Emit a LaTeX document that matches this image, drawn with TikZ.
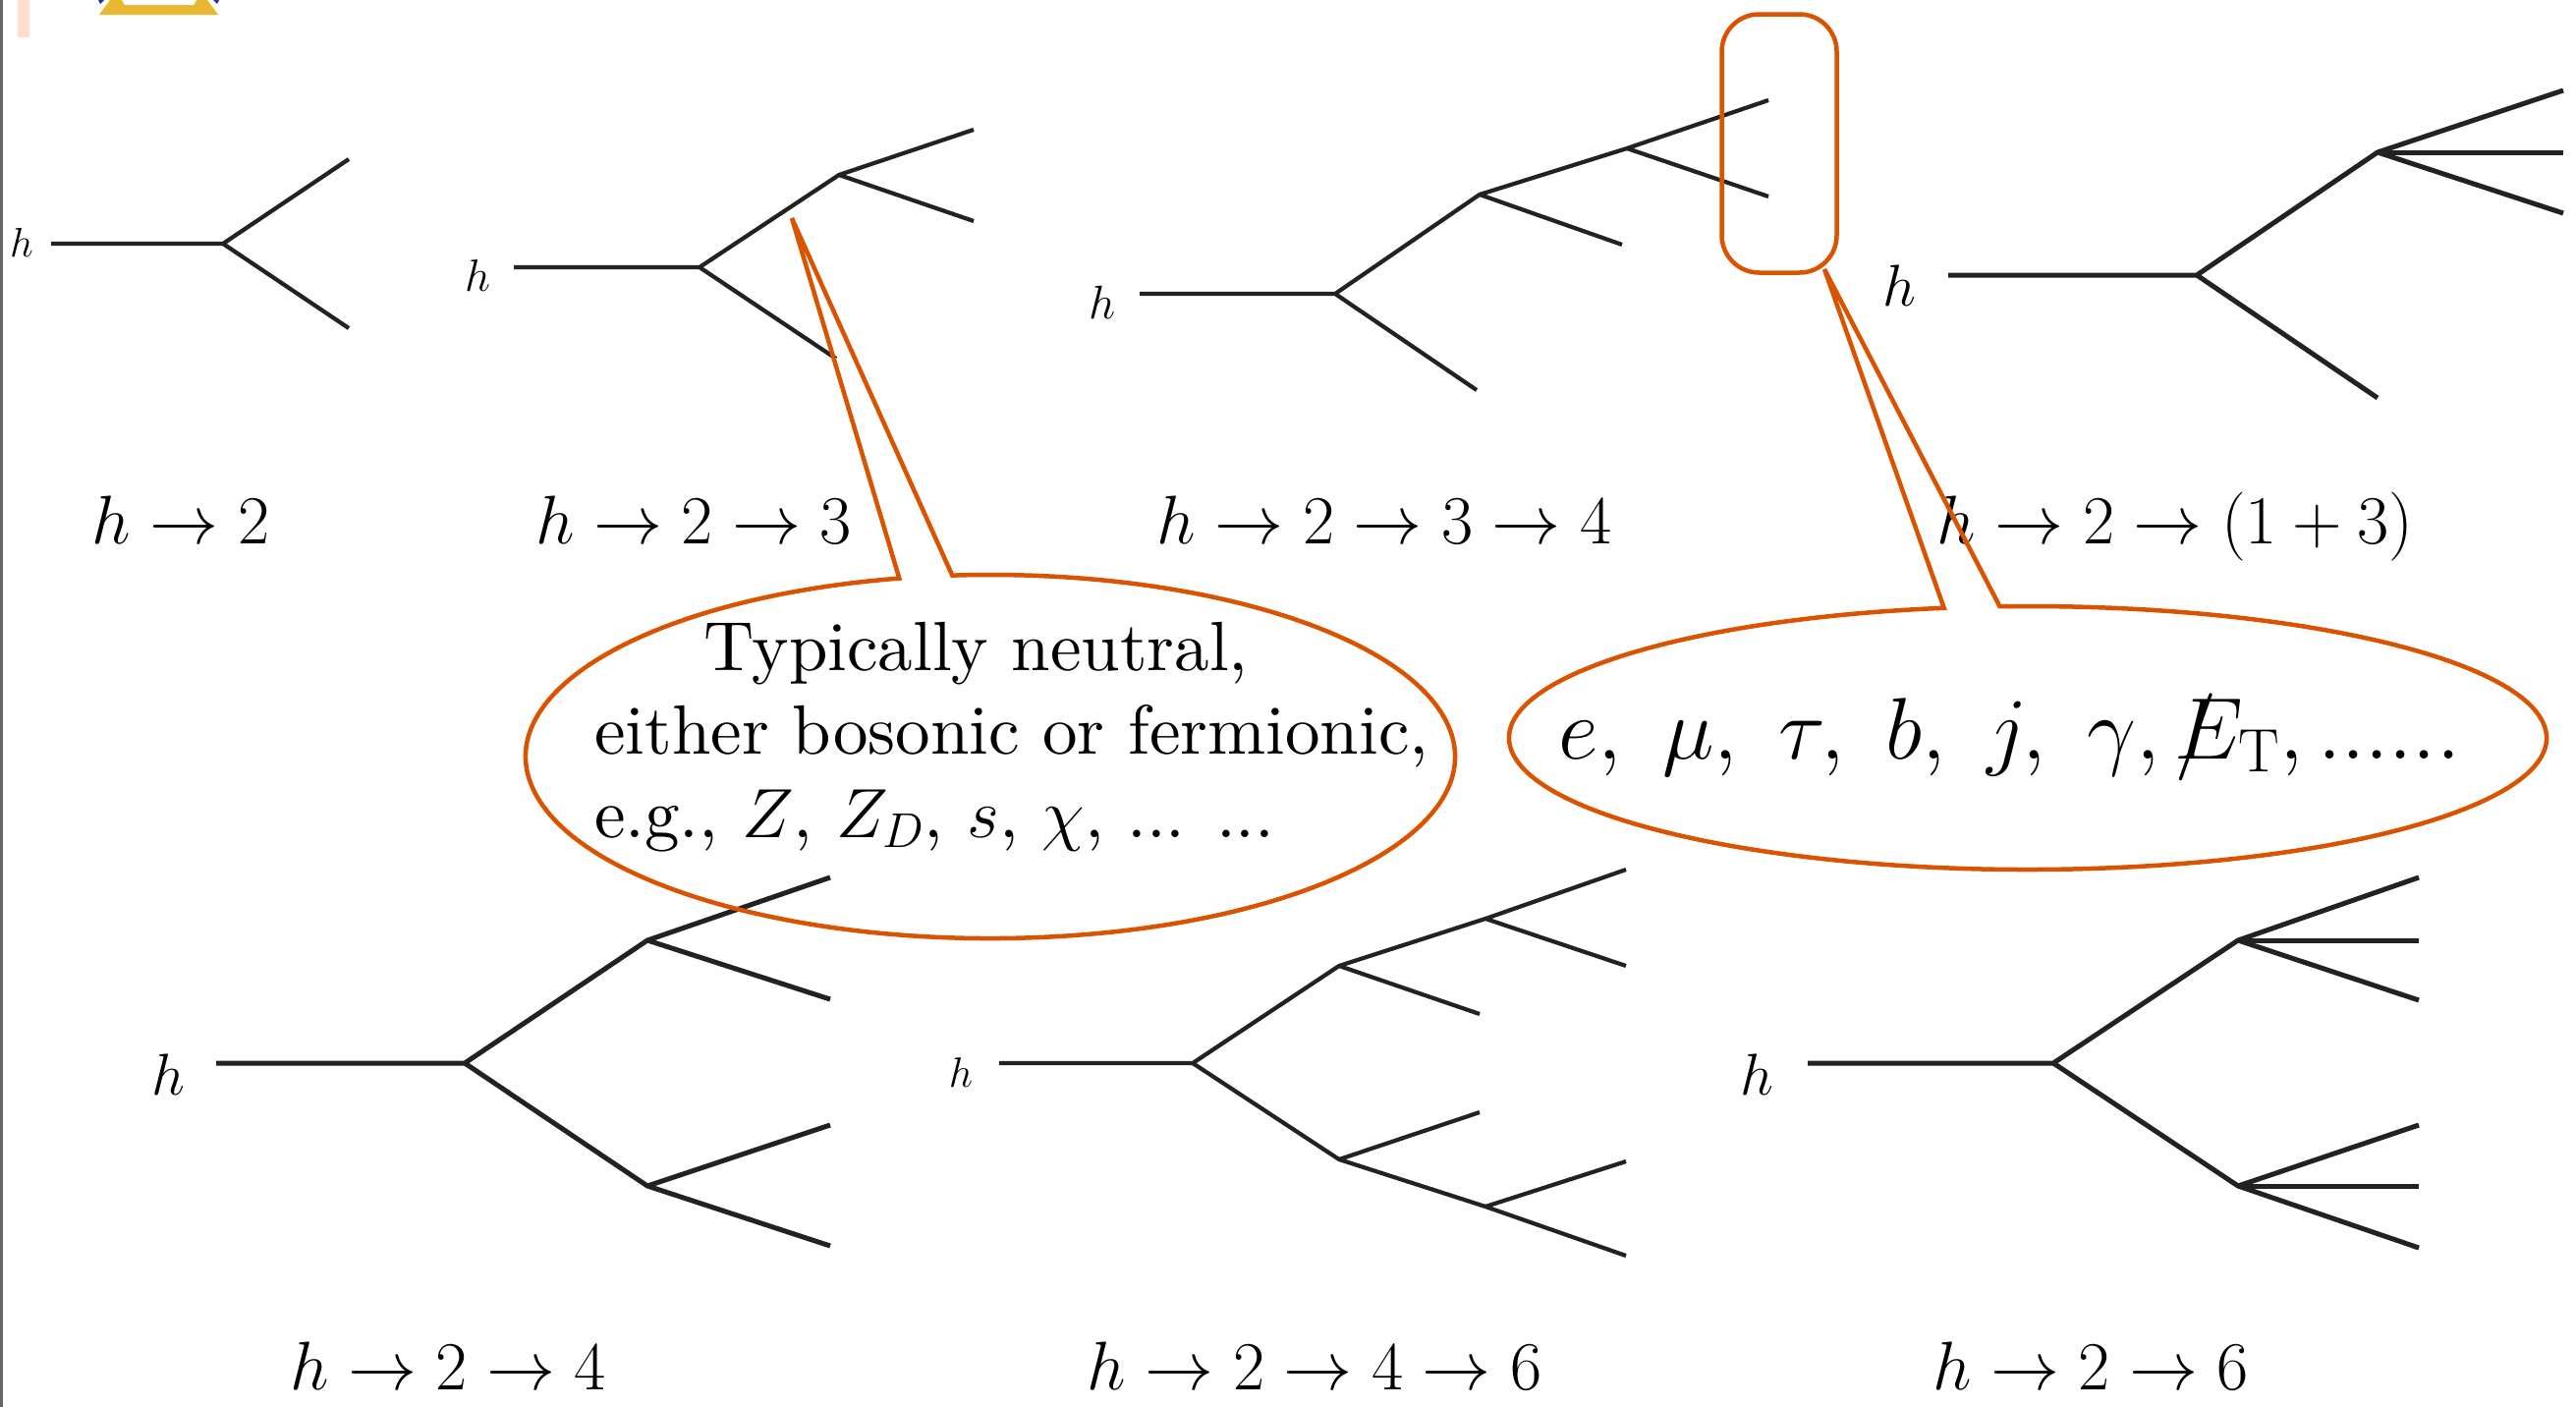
\RequirePackage{fix-cm}
\documentclass[tikz,border=0pt]{standalone}
\definecolor{linecol}{RGB}{34,34,34}
\definecolor{calloutcol}{RGB}{217,83,0}
\definecolor{pinkbar}{RGB}{255,222,206}
\definecolor{logoyellow}{RGB}{232,184,48}
\definecolor{logoblue}{RGB}{40,50,150}
\font\cmtextA="[lmroman10-regular.otf]:mapping=tex-text" at 71pt
\newcommand\capfont{\fontsize{70}{84}\selectfont}
\newcommand\calfontA{\fontsize{71}{85}\selectfont\cmtextA}
\newcommand\calfontB{\fontsize{89}{100}\selectfont}
\tikzset{
  ln/.style={draw=linecol, line width=4.2pt, line join=round},
  lnb/.style={draw=linecol, line width=5pt, line join=round},
  co/.style={draw=calloutcol, line width=4.5pt},
  hlab/.style={inner sep=0pt, text=black},
  caption/.style={anchor=base, inner sep=0pt, font=\capfont},
  ctext/.style={anchor=base west, inner sep=0pt},
}
\begin{document}
\begin{tikzpicture}[x=1pt,y=-1pt]
\useasboundingbox (0,0) rectangle (2622,1432);
\fill[white] (0,0) rectangle (2622,1432);
% slide remnants
\fill[gray!80!black] (0,0) rectangle (2.5,1432);
\fill[pinkbar] (18,0) rectangle (30,38);
\fill[logoyellow] (101,15) -- (222,15) -- (211,0) -- (112,0) -- cycle;
\fill[white] (127,5) -- (197,5) -- (200,0) -- (124,0) -- cycle;
\fill[logoblue] (100,0) -- (106,0) -- (102,4) -- cycle;
\fill[logoblue] (217,0) -- (223,0) -- (221,4) -- cycle;

% ---------- diagram 1: h -> 2
\node[hlab, font=\fontsize{42}{50}\selectfont] (h1) at (22,247) {$h$};
\coordinate (a0) at (52,248); \coordinate (a1) at (227,248);
\coordinate (a2) at (355,162); \coordinate (a3) at (355,334);
\draw[ln] (a0) -- (a1) -- (a2); \draw[ln] (a1) -- (a3);
\node[caption] (l1) at (184,553) {$h\rightarrow 2$};

% ---------- diagram 2: h -> 2 -> 3
\node[hlab, font=\fontsize{46}{55}\selectfont] (h2) at (486,281) {$h$};
\coordinate (b0) at (523,272); \coordinate (b1) at (712,272);
\coordinate (b2) at (854,178); \coordinate (b3) at (851,365);
\coordinate (b4) at (991,132); \coordinate (b5) at (991,225);
\draw[ln] (b0) -- (b1) -- (b2) -- (b4); \draw[ln] (b1) -- (b3); \draw[ln] (b2) -- (b5);
\node[caption] (l2) at (706,553) {$h\rightarrow 2\rightarrow 3$};

% ---------- diagram 3: h -> 2 -> 3 -> 4
\node[hlab, font=\fontsize{48}{58}\selectfont] (h3) at (1122,308) {$h$};
\coordinate (c0) at (1160,299); \coordinate (c1) at (1359,299);
\coordinate (c2) at (1503,397); \coordinate (c3) at (1506,198);
\coordinate (c4) at (1651,249); \coordinate (c5) at (1656,151);
\coordinate (c6) at (1800,102); \coordinate (c7) at (1800,200);
\draw[ln] (c0) -- (c1) -- (c3) -- (c5) -- (c6); \draw[ln] (c1) -- (c2);
\draw[ln] (c3) -- (c4); \draw[ln] (c5) -- (c7);
\node[caption] (l3) at (1409,553) {$h\rightarrow 2\rightarrow 3\rightarrow 4$};

% ---------- diagram 4: h -> 2 -> (1+3)
\node[hlab, font=\fontsize{60}{72}\selectfont] (h4) at (1933,291) {$h$};
\coordinate (d0) at (1983,280); \coordinate (d1) at (2236,280);
\coordinate (d2) at (2420,405); \coordinate (d3) at (2420,155);
\coordinate (d4) at (2609,92); \coordinate (d5) at (2609,155); \coordinate (d6) at (2609,217);
\draw[lnb] (d0) -- (d1) -- (d3) -- (d4); \draw[lnb] (d1) -- (d2);
\draw[lnb] (d3) -- (d5); \draw[lnb] (d3) -- (d6);
\node[caption] (l4) at (2214,553) {$h\rightarrow 2\rightarrow (1+3)$};

% ---------- diagram 5: h -> 2 -> 4
\node[hlab, font=\fontsize{60}{72}\selectfont] (h5) at (171,1094) {$h$};
\coordinate (e0) at (220,1082); \coordinate (e1) at (473,1082);
\coordinate (e2) at (659,957); \coordinate (e3) at (659,1207);
\coordinate (e4) at (845,893); \coordinate (e5) at (845,1017);
\coordinate (e6) at (845,1145); \coordinate (e7) at (845,1268);
\draw[lnb] (e0) -- (e1) -- (e2) -- (e4); \draw[lnb] (e1) -- (e3) -- (e7);
\draw[lnb] (e2) -- (e5); \draw[lnb] (e3) -- (e6);
\node[caption] (l5) at (456,1414) {$h\rightarrow 2\rightarrow 4$};

% ---------- diagram 6: h -> 2 -> 4 -> 6
\node[hlab, font=\fontsize{43}{52}\selectfont] (h6) at (978,1092) {$h$};
\coordinate (f0) at (1017,1082); \coordinate (f1) at (1214,1082);
\coordinate (f2) at (1363,983); \coordinate (f3) at (1506,1032);
\coordinate (f4) at (1512,935); \coordinate (f5) at (1655,885); \coordinate (f6) at (1655,983);
\coordinate (f7) at (1363,1180); \coordinate (f8) at (1506,1132);
\coordinate (f9) at (1512,1228); \coordinate (f10) at (1655,1182); \coordinate (f11) at (1655,1278);
\draw[ln] (f0) -- (f1) -- (f2) -- (f4) -- (f5); \draw[ln] (f2) -- (f3); \draw[ln] (f4) -- (f6);
\draw[ln] (f1) -- (f7) -- (f9) -- (f11); \draw[ln] (f7) -- (f8); \draw[ln] (f9) -- (f10);
\node[caption] (l6) at (1338,1414) {$h\rightarrow 2\rightarrow 4\rightarrow 6$};

% ---------- diagram 7: h -> 2 -> 6
\node[hlab, font=\fontsize{60}{72}\selectfont] (h7) at (1788,1094) {$h$};
\coordinate (g0) at (1840,1082); \coordinate (g1) at (2090,1082);
\coordinate (g2) at (2278,957); \coordinate (g3) at (2462,893);
\coordinate (g4) at (2462,957); \coordinate (g5) at (2462,1018);
\coordinate (g6) at (2278,1207); \coordinate (g7) at (2462,1145);
\coordinate (g8) at (2462,1207); \coordinate (g9) at (2462,1270);
\draw[lnb] (g0) -- (g1) -- (g2) -- (g3); \draw[lnb] (g2) -- (g4); \draw[lnb] (g2) -- (g5);
\draw[lnb] (g1) -- (g6) -- (g7); \draw[lnb] (g6) -- (g8); \draw[lnb] (g6) -- (g9);
\node[caption] (l7) at (2128,1414) {$h\rightarrow 2\rightarrow 6$};

% ---------- callout 1
\coordinate (tipA) at (806,222);
\draw[co] ([shift={(-101.3:473 and 185)}]1008,770)
  arc[start angle=-101.3, end angle=-454.7, x radius=473, y radius=185]
  -- (tipA) -- cycle;
\node[ctext, font=\calfontA] (t1) at (716,682) {Typically neutral,};
\node[ctext, font=\calfontA] (t2) at (605,767) {either bosonic or fermionic,};
\node[ctext, font=\calfontA] (t3) at (605,852) {e.g., $Z$, $Z_D$, $s$, $\chi$, ... ...};

% ---------- callout 2
\node[draw=calloutcol, line width=4.5pt, rounded corners=38pt, inner sep=0pt,
      minimum width=117pt, minimum height=263pt] (box) at (1811,146) {};
\coordinate (tipB) at (1857,274);
\draw[co] ([shift={(-99.3:528 and 134)}]2064,751)
  arc[start angle=-99.3, end angle=-453.1, x radius=528, y radius=134]
  -- (tipB) -- cycle;
\node[ctext, font=\calfontB] (t4) at (1586,772)
  {$e,\ \mu,\ \tau,\ b,\ j,\ \gamma,\rlap{$/$}E_{\mathrm{T}},......$};
\end{tikzpicture}
\end{document}
